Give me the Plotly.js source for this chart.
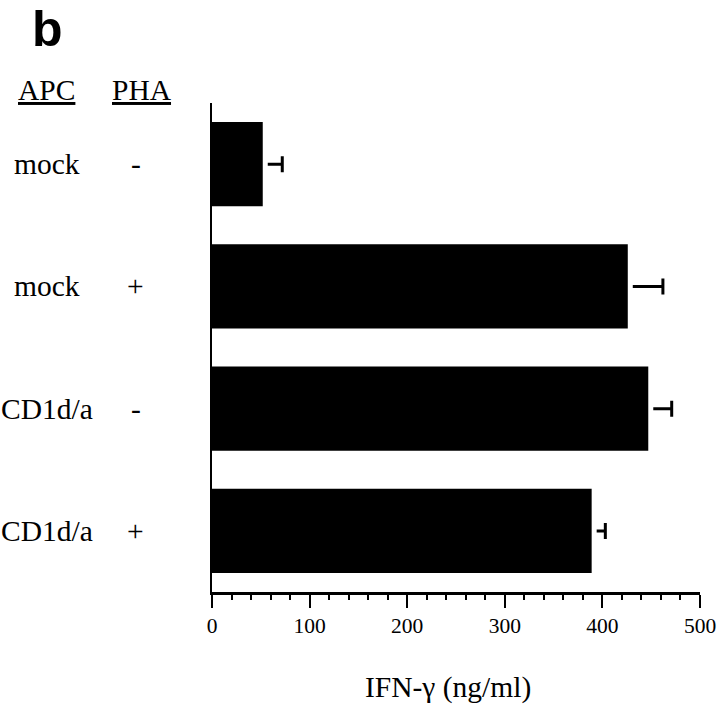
<!DOCTYPE html>
<html>
<head>
<meta charset="utf-8">
<script src="https://cdn.plot.ly/plotly-3.0.1.min.js"></script>
<style>html,body{margin:0;padding:0;background:#fff;}#chart{width:720px;height:713px;}</style>
</head>
<body>
<div id="chart"></div>
<script>
const apcLabels = ['mock', 'mock', 'CD1d/a', 'CD1d/a'];
const phaLabels = ['-', '+', '-', '+'];
const ifnValues = [52, 426, 447, 389];
const ifnErrors = [20, 36, 24, 14];
const xTickVals = [0, 100, 200, 300, 400, 500];

const keys = apcLabels.map((a, i) => a + ' ' + phaLabels[i]);
const serif = 'Liberation Serif, Times New Roman, serif';

// trace carrying the error bars (bar itself invisible)
const errTrace = {
  type: 'bar', orientation: 'h', y: keys, x: ifnValues,
  marker: {color: 'rgba(0,0,0,0)', line: {width: 0}},
  error_x: {type: 'data', array: ifnErrors, symmetric: false, arrayminus: ifnErrors.map(() => 0),
            color: '#000', thickness: 3, width: 8},
  hoverinfo: 'none'
};
// white halo producing the small gap between bar end and error bar
const haloTrace = {
  type: 'bar', orientation: 'h', y: keys, x: ifnValues,
  marker: {color: '#fff', line: {color: '#fff', width: 10}},
  hoverinfo: 'none'
};
const barTrace = {
  type: 'bar', orientation: 'h', y: keys, x: ifnValues,
  marker: {color: '#000', line: {width: 0}},
  hoverinfo: 'none'
};

const lblFont = {family: serif, size: 29.5, color: '#000'};
const annotations = [];
keys.forEach((k, i) => {
  annotations.push({xref: 'paper', yref: 'y', x: -0.338, y: k, text: apcLabels[i],
    showarrow: false, xanchor: 'center', yanchor: 'middle', font: lblFont});
  annotations.push({xref: 'paper', yref: 'y', x: -0.156, y: k, text: phaLabels[i],
    showarrow: false, xanchor: 'center', yanchor: 'middle', font: lblFont});
});
annotations.push({xref: 'paper', yref: 'paper', x: -0.340, y: 1.027, text: '<u>APC</u>',
  showarrow: false, xanchor: 'center', yanchor: 'middle', font: lblFont});
annotations.push({xref: 'paper', yref: 'paper', x: -0.143, y: 1.027, text: '<u>PHA</u>',
  showarrow: false, xanchor: 'center', yanchor: 'middle', font: lblFont});
annotations.push({xref: 'paper', yref: 'paper', x: -0.338, y: 1.1513, text: '<b>b</b>',
  showarrow: false, xanchor: 'center', yanchor: 'middle',
  font: {family: 'Liberation Sans, Arial, sans-serif', size: 50, color: '#000'}});
annotations.push({xref: 'paper', yref: 'paper', x: 0.484, y: -0.196, text: 'IFN-γ (ng/ml)',
  showarrow: false, xanchor: 'center', yanchor: 'middle', font: {family: serif, size: 29.5, color: '#000'}});

const layout = {
  width: 720, height: 713,
  margin: {l: 212, r: 20, t: 103, b: 121},
  paper_bgcolor: '#fff', plot_bgcolor: '#fff',
  showlegend: false,
  barmode: 'overlay',
  bargap: 0.31,
  xaxis: {
    range: [0, 500], showgrid: false, zeroline: false,
    showline: true, linecolor: '#000', linewidth: 2.5, layer: 'above traces',
    tickmode: 'array', tickvals: xTickVals, ticktext: xTickVals.map(String),
    ticks: 'outside', ticklen: 13, tickwidth: 2, tickcolor: '#000',
    minor: {dtick: 20, ticks: 'outside', ticklen: 5, tickwidth: 2, tickcolor: '#000', showgrid: false},
    tickfont: {family: serif, size: 21.5, color: '#000'}
  },
  yaxis: {
    type: 'category', autorange: 'reversed', showgrid: false, zeroline: false,
    showline: true, linecolor: '#000', linewidth: 2.5, layer: 'above traces',
    showticklabels: false, ticks: ''
  },
  annotations: annotations
};

Plotly.newPlot('chart', [errTrace, haloTrace, barTrace], layout, {staticPlot: true, displayModeBar: false});
</script>
</body>
</html>
